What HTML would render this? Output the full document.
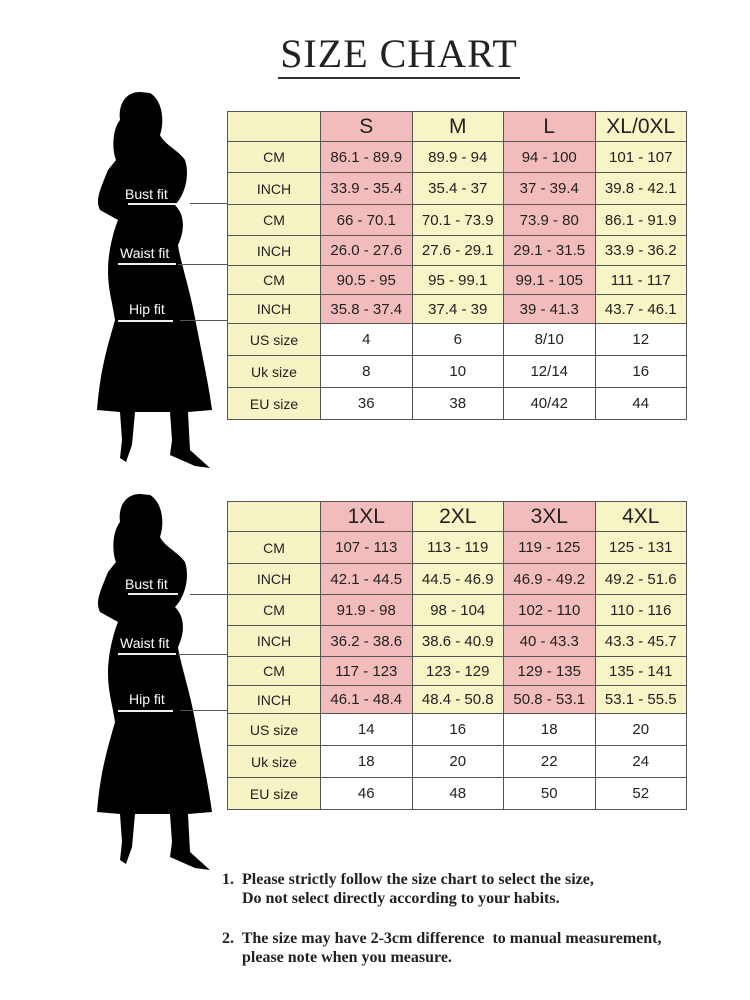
<!DOCTYPE html>
<html><head><meta charset="utf-8"><style>
body{margin:0;width:750px;height:1000px;background:#fff;position:relative;overflow:hidden;font-family:"Liberation Sans",sans-serif}
.title{position:absolute;left:0;width:798px;top:30px;text-align:center;font-family:"Liberation Serif",serif;font-size:40px;color:#222;letter-spacing:1px}
.ul{position:absolute;left:278px;width:242px;top:77px;height:2px;background:#333}
table{position:absolute;left:227px;border-collapse:collapse;width:460px;table-layout:fixed}
td{border:1.5px solid #555;text-align:center;font-size:15px;color:#222;padding:0}
td.l{background:#f6f3c4;font-size:14px;width:92px}
tr.h td{font-size:21px;height:29px}
.p{background:#f3bcbc}
.y{background:#f7f4c6}
.w{background:#fff}
.lab{position:absolute;color:#fff;font-size:14px}
.ln{position:absolute;height:1px;background:#555}
.wl{position:absolute;height:2px;background:#eee}
.note{position:absolute;left:222px;font-family:"Liberation Serif",serif;font-weight:bold;font-size:16px;color:#222;line-height:19px}
</style></head><body>
<div class="title">SIZE CHART</div><div class="ul"></div>

<svg style="position:absolute;left:0;top:0" width="750" height="1000">
<g id="f1" fill="#000">
<path d="M140,92 C125,92 118,105 120,120 C112,130 112,150 116,160 L108,170 C100,190 95,200 100,210 L118,220 C112,235 108,255 108,270 C108,290 112,300 115,320 C108,345 100,370 97,410 L120,412 L122,440 L120,458 L126,462 L132,445 L135,412 L170,412 L172,440 L170,455 L195,466 L210,468 L190,450 L188,412 L212,410 C208,380 200,345 195,318 C190,290 180,260 178,245 C185,230 185,215 175,205 C185,195 190,175 185,160 C178,150 165,145 160,135 C165,120 162,100 150,93 Z"/>
</g>
<g fill="#000" transform="translate(0,402)">
<path d="M140,92 C125,92 118,105 120,120 C112,130 112,150 116,160 L108,170 C100,190 95,200 100,210 L118,220 C112,235 108,255 108,270 C108,290 112,300 115,320 C108,345 100,370 97,410 L120,412 L122,440 L120,458 L126,462 L132,445 L135,412 L170,412 L172,440 L170,455 L195,466 L210,468 L190,450 L188,412 L212,410 C208,380 200,345 195,318 C190,290 180,260 178,245 C185,230 185,215 175,205 C185,195 190,175 185,160 C178,150 165,145 160,135 C165,120 162,100 150,93 Z"/>
</g>
</svg>

<div class="lab" style="left:125px;top:186px">Bust fit</div><div class="wl" style="left:128px;top:203px;width:50px"></div><div class="ln" style="left:190px;top:203px;width:37px"></div>
<div class="lab" style="left:120px;top:245px">Waist fit</div><div class="wl" style="left:118px;top:263px;width:58px"></div><div class="ln" style="left:178px;top:264px;width:49px"></div>
<div class="lab" style="left:129px;top:301px">Hip fit</div><div class="wl" style="left:118px;top:320px;width:55px"></div><div class="ln" style="left:180px;top:320px;width:47px"></div>

<div class="lab" style="left:125px;top:576px">Bust fit</div><div class="wl" style="left:128px;top:593px;width:50px"></div><div class="ln" style="left:190px;top:594px;width:37px"></div>
<div class="lab" style="left:120px;top:635px">Waist fit</div><div class="wl" style="left:118px;top:653px;width:58px"></div><div class="ln" style="left:178px;top:654px;width:49px"></div>
<div class="lab" style="left:129px;top:691px">Hip fit</div><div class="wl" style="left:118px;top:710px;width:55px"></div><div class="ln" style="left:180px;top:710px;width:47px"></div>

<table style="top:111px">
<tr class="h"><td class="l"></td><td class="p">S</td><td class="y">M</td><td class="p">L</td><td class="y">XL/0XL</td></tr>
<tr style="height:31px"><td class="l">CM</td><td class="p">86.1 - 89.9</td><td class="y">89.9 - 94</td><td class="p">94 - 100</td><td class="y">101 - 107</td></tr>
<tr style="height:32px"><td class="l">INCH</td><td class="p">33.9 - 35.4</td><td class="y">35.4 - 37</td><td class="p">37 - 39.4</td><td class="y">39.8 - 42.1</td></tr>
<tr style="height:31px"><td class="l">CM</td><td class="p">66 - 70.1</td><td class="y">70.1 - 73.9</td><td class="p">73.9 - 80</td><td class="y">86.1 - 91.9</td></tr>
<tr style="height:30px"><td class="l">INCH</td><td class="p">26.0 - 27.6</td><td class="y">27.6 - 29.1</td><td class="p">29.1 - 31.5</td><td class="y">33.9 - 36.2</td></tr>
<tr style="height:29px"><td class="l">CM</td><td class="p">90.5 - 95</td><td class="y">95 - 99.1</td><td class="p">99.1 - 105</td><td class="y">111 - 117</td></tr>
<tr style="height:29px"><td class="l">INCH</td><td class="p">35.8 - 37.4</td><td class="y">37.4 - 39</td><td class="p">39 - 41.3</td><td class="y">43.7 - 46.1</td></tr>
<tr style="height:32px"><td class="l">US size</td><td class="w">4</td><td class="w">6</td><td class="w">8/10</td><td class="w">12</td></tr>
<tr style="height:32px"><td class="l">Uk size</td><td class="w">8</td><td class="w">10</td><td class="w">12/14</td><td class="w">16</td></tr>
<tr style="height:32px"><td class="l">EU size</td><td class="w">36</td><td class="w">38</td><td class="w">40/42</td><td class="w">44</td></tr>
</table>

<table style="top:501px">
<tr class="h"><td class="l"></td><td class="p">1XL</td><td class="y">2XL</td><td class="p">3XL</td><td class="y">4XL</td></tr>
<tr style="height:32px"><td class="l">CM</td><td class="p">107 - 113</td><td class="y">113 - 119</td><td class="p">119 - 125</td><td class="y">125 - 131</td></tr>
<tr style="height:31px"><td class="l">INCH</td><td class="p">42.1 - 44.5</td><td class="y">44.5 - 46.9</td><td class="p">46.9 - 49.2</td><td class="y">49.2 - 51.6</td></tr>
<tr style="height:31px"><td class="l">CM</td><td class="p">91.9 - 98</td><td class="y">98 - 104</td><td class="p">102 - 110</td><td class="y">110 - 116</td></tr>
<tr style="height:31px"><td class="l">INCH</td><td class="p">36.2 - 38.6</td><td class="y">38.6 - 40.9</td><td class="p">40 - 43.3</td><td class="y">43.3 - 45.7</td></tr>
<tr style="height:29px"><td class="l">CM</td><td class="p">117 - 123</td><td class="y">123 - 129</td><td class="p">129 - 135</td><td class="y">135 - 141</td></tr>
<tr style="height:28px"><td class="l">INCH</td><td class="p">46.1 - 48.4</td><td class="y">48.4 - 50.8</td><td class="p">50.8 - 53.1</td><td class="y">53.1 - 55.5</td></tr>
<tr style="height:32px"><td class="l">US size</td><td class="w">14</td><td class="w">16</td><td class="w">18</td><td class="w">20</td></tr>
<tr style="height:32px"><td class="l">Uk size</td><td class="w">18</td><td class="w">20</td><td class="w">22</td><td class="w">24</td></tr>
<tr style="height:32px"><td class="l">EU size</td><td class="w">46</td><td class="w">48</td><td class="w">50</td><td class="w">52</td></tr>
</table>

<div class="note" style="top:870px">1.&nbsp; Please strictly follow the size chart to select the size,<br>&nbsp;&nbsp;&nbsp;&nbsp; Do not select directly according to your habits.</div>
<div class="note" style="top:929px">2.&nbsp; The size may have 2-3cm difference&nbsp; to manual measurement,<br>&nbsp;&nbsp;&nbsp;&nbsp; please note when you measure.</div>
</body></html>
